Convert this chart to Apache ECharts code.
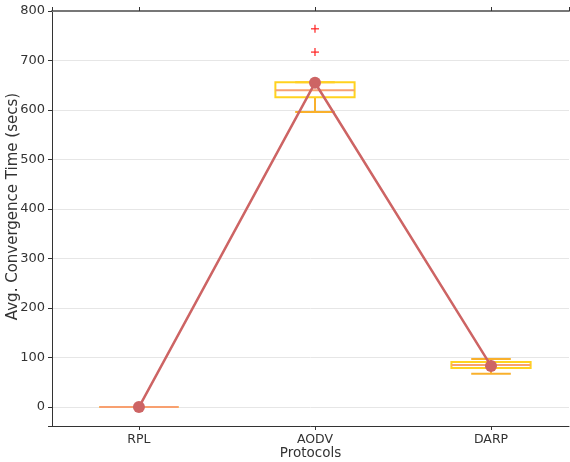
<!DOCTYPE html>
<html><head><meta charset="utf-8">
<script src="https://cdn.jsdelivr.net/npm/echarts@6/dist/echarts.min.js"></script>
<style>html,body{margin:0;padding:0;background:#fff}#c{width:570px;height:462px}</style>
</head><body><div id="c"></div>
<script>
const categories = ['RPL', 'AODV', 'DARP'];
// [min whisker, Q1, median, Q3, max whisker]
const boxStats = [
  [0, 0, 0, 0, 0],
  [596, 626, 640, 656, 656],
  [67, 79, 85, 91, 97]
];
const outliers = [[1, 764], [1, 717]];
const means = [0, 655, 83];
const yTicks = [0, 100, 200, 300, 400, 500, 600, 700, 800];

const font = 'DejaVu Sans';
const chart = echarts.init(document.getElementById('c'), null, {renderer: 'canvas'});

const boxData = boxStats.map((s, i) => [i].concat(s));
const BW = 0.45;

function renderBox(params, api) {
  const x = api.value(0);
  const vmin = api.value(1), q1 = api.value(2), med = api.value(3), q3 = api.value(4), vmax = api.value(5);
  const L = api.coord([x - BW / 2, q1]), R = api.coord([x + BW / 2, q3]);
  const cL = api.coord([x - BW / 4, vmin]), cR = api.coord([x + BW / 4, vmax]);
  const c = api.coord([x, med]);
  const pMin = api.coord([x, vmin]), pMax = api.coord([x, vmax]);
  const pQ1 = api.coord([x, q1]), pQ3 = api.coord([x, q3]);
  const whisk = {stroke: '#F9B02C', lineWidth: 2};
  return {
    type: 'group',
    children: [
      {type: 'line', shape: {x1: pQ1[0], y1: pQ1[1], x2: pMin[0], y2: pMin[1]}, style: whisk},
      {type: 'line', shape: {x1: pQ3[0], y1: pQ3[1], x2: pMax[0], y2: pMax[1]}, style: whisk},
      {type: 'line', shape: {x1: cL[0], y1: pMin[1], x2: cR[0], y2: pMin[1]}, style: whisk},
      {type: 'line', shape: {x1: cL[0], y1: pMax[1], x2: cR[0], y2: pMax[1]}, style: whisk},
      {type: 'rect', shape: {x: L[0], y: R[1], width: R[0] - L[0], height: L[1] - R[1]},
        style: {fill: 'none', stroke: '#FFD21F', lineWidth: 2}},
      {type: 'line', shape: {x1: L[0], y1: c[1], x2: R[0], y2: c[1]},
        style: {stroke: '#F8A070', lineWidth: 2}}
    ]
  };
}

function renderPlus(params, api) {
  const p = api.coord([api.value(0), api.value(1)]);
  const s = 4;
  const st = {stroke: '#FF2020', lineWidth: 1.2};
  return {type: 'group', children: [
    {type: 'line', shape: {x1: p[0] - s, y1: p[1], x2: p[0] + s, y2: p[1]}, style: st},
    {type: 'line', shape: {x1: p[0], y1: p[1] - s, x2: p[0], y2: p[1] + s}, style: st}
  ]};
}

const xMin = -0.494, xMax = 2.443;
const labelStyle = {color: '#333', fontFamily: font, fontSize: 13};

chart.setOption({
  animation: false,
  backgroundColor: '#fff',
  grid: {left: 52, right: 1, top: 11, bottom: 36, containLabel: false, outerBoundsMode: 'none'},
  xAxis: [{
    type: 'value', min: xMin, max: xMax, position: 'bottom',
    name: 'Protocols', nameLocation: 'middle', nameGap: 20, nameMoveOverlap: false,
    nameTextStyle: {color: '#333', fontFamily: font, fontSize: 13.5},
    axisLine: {show: true, onZero: false, lineStyle: {color: '#333', width: 1}},
    axisTick: {show: true, length: 4, lineStyle: {color: '#333'}},
    splitLine: {show: false},
    minInterval: 1, maxInterval: 1,
    axisLabel: {...labelStyle, fontSize: 12.5, margin: 7, showMinLabel: false, showMaxLabel: false,
      formatter: v => (Number.isInteger(v) && categories[v] !== undefined) ? categories[v] : ''}
  }, {
    type: 'value', min: xMin, max: xMax, position: 'top',
    axisLine: {show: true, onZero: false, lineStyle: {color: '#777', width: 2}},
    axisTick: {show: true, length: 4, lineStyle: {color: '#333'}},
    minInterval: 1, maxInterval: 1,
    splitLine: {show: false},
    axisLabel: {show: false}
  }],
  yAxis: {
    type: 'value', min: -38.3, max: 800,
    minInterval: 100, maxInterval: 100,
    name: 'Avg. Convergence Time (secs)', nameLocation: 'middle', nameGap: 31, nameMoveOverlap: false,
    nameTextStyle: {color: '#333', fontFamily: font, fontSize: 15, padding: [0, 0, 0, 24]},
    axisLine: {show: true, onZero: false, lineStyle: {color: '#333', width: 1}},
    axisTick: {show: true, length: 4, lineStyle: {color: '#333'}},
    splitLine: {show: true, lineStyle: {color: '#e6e6e6', width: 1}},
    axisLabel: {...labelStyle, margin: 7,
      formatter: v => yTicks.includes(v) ? String(v) : ''}
  },
  series: [
    {type: 'custom', renderItem: renderBox, data: boxData, z: 2},
    {type: 'custom', renderItem: renderPlus, data: outliers, z: 2},
    {type: 'line', data: means.map((m, i) => [i, m]), z: 3,
      lineStyle: {color: '#CD6464', width: 2.5},
      itemStyle: {color: '#CD6464'},
      symbol: 'circle', symbolSize: 12, showSymbol: true}
  ]
});
</script>
</body></html>
